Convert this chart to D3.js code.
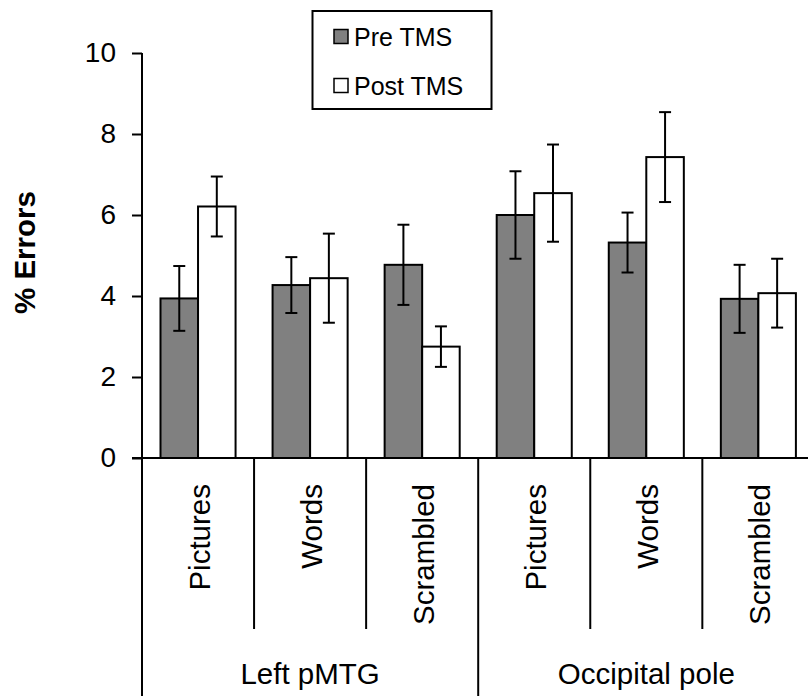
<!DOCTYPE html>
<html>
<head>
<meta charset="utf-8">
<script src="https://cdn.jsdelivr.net/npm/d3@7"></script>
<style>
  html, body { margin: 0; padding: 0; background: #fff; }
  svg { display: block; }
  text { font-family: "Liberation Sans", Arial, sans-serif; fill: #000; }
</style>
</head>
<body>
<div id="chart"></div>
<script>
// ---- data ----
const categories = ["Pictures", "Words", "Scrambled", "Pictures", "Words", "Scrambled"];
const groups = ["Left pMTG", "Occipital pole"];
const groupOf = [0, 0, 0, 1, 1, 1];
const series = ["Pre TMS", "Post TMS"];
const preValues  = [3.94, 4.27, 4.77, 6.00, 5.32, 3.93];
const postValues = [6.21, 4.44, 2.75, 6.54, 7.43, 4.07];
const preErr  = [0.80, 0.69, 0.99, 1.08, 0.74, 0.84];
const postErr = [0.74, 1.10, 0.50, 1.20, 1.11, 0.85];
const yTicks = [0, 2, 4, 6, 8, 10];
const yTitle = "% Errors";

// ---- layout ----
const W = 808, H = 696;
const plotLeft = 142, plotRight = 814.4, plotTop = 53, plotBottom = 458;
const colors = { "Pre TMS": "#808080", "Post TMS": "#ffffff" };

const svg = d3.select("#chart").append("svg")
  .attr("width", W).attr("height", H);

const idx = categories.map((d, i) => i);
const x0 = d3.scaleBand().domain(idx).range([plotLeft, plotRight]).padding(0);
const x1 = d3.scaleBand().domain(series).range([0, x0.bandwidth()])
  .paddingInner(0).paddingOuter(0.493);
const y = d3.scaleLinear().domain([0, 10]).range([plotBottom, plotTop]);

const rows = [];
idx.forEach(i => {
  rows.push({ i, s: "Pre TMS", v: preValues[i], e: preErr[i] });
  rows.push({ i, s: "Post TMS", v: postValues[i], e: postErr[i] });
});

// bars
svg.append("g").selectAll("rect").data(rows).join("rect")
  .attr("x", d => x0(d.i) + x1(d.s))
  .attr("y", d => y(d.v))
  .attr("width", x1.bandwidth())
  .attr("height", d => y(0) - y(d.v))
  .attr("fill", d => colors[d.s])
  .attr("stroke", "#000")
  .attr("stroke-width", 2);

// error bars
const eg = svg.append("g").attr("stroke", "#000").attr("stroke-width", 2);
rows.forEach(d => {
  const cx = x0(d.i) + x1(d.s) + x1.bandwidth() / 2;
  eg.append("line").attr("x1", cx).attr("x2", cx)
    .attr("y1", y(d.v + d.e)).attr("y2", y(d.v - d.e));
  [d.v + d.e, d.v - d.e].forEach(v => {
    eg.append("line").attr("x1", cx - 6).attr("x2", cx + 6)
      .attr("y1", y(v)).attr("y2", y(v));
  });
});

// y axis
const yAxis = d3.axisLeft(y).tickValues(yTicks).tickSize(10).tickPadding(16)
  .tickFormat(d3.format("d"));
const ya = svg.append("g").attr("transform", `translate(${plotLeft},0)`).call(yAxis);
ya.select(".domain").remove();
ya.selectAll(".tick line").attr("stroke", "#000").attr("stroke-width", 2);
ya.selectAll(".tick text").attr("font-size", 28)
  .attr("font-family", "'Liberation Sans', Arial, sans-serif").attr("fill", "#000");

// axis lines
svg.append("line").attr("x1", plotLeft).attr("x2", plotLeft)
  .attr("y1", plotTop).attr("y2", H)
  .attr("stroke", "#000").attr("stroke-width", 2);
svg.append("line").attr("x1", plotLeft - 10).attr("x2", W)
  .attr("y1", plotBottom).attr("y2", plotBottom)
  .attr("stroke", "#000").attr("stroke-width", 2);

// category dividers and group dividers
idx.forEach(i => {
  if (i === 0) return;
  const isGroupEdge = groupOf[i] !== groupOf[i - 1];
  svg.append("line").attr("x1", x0(i)).attr("x2", x0(i))
    .attr("y1", plotBottom).attr("y2", isGroupEdge ? H : 629)
    .attr("stroke", "#000").attr("stroke-width", 2);
});
svg.append("line").attr("x1", plotRight).attr("x2", plotRight)
  .attr("y1", plotBottom).attr("y2", H)
  .attr("stroke", "#000").attr("stroke-width", 2);

// category labels (rotated)
svg.append("g").selectAll("text").data(idx).join("text")
  .attr("transform", i => `translate(${x0(i) + x0.bandwidth() / 2 + 11.5},484) rotate(-90)`)
  .attr("text-anchor", "end")
  .attr("font-size", 29.5)
  .text(i => categories[i]);

// group labels
groups.forEach((g, gi) => {
  const members = idx.filter(i => groupOf[i] === gi);
  const gx0 = x0(members[0]);
  const gx1 = x0(members[members.length - 1]) + x0.bandwidth();
  svg.append("text")
    .attr("x", (gx0 + gx1) / 2).attr("y", 684)
    .attr("text-anchor", "middle").attr("font-size", 29.5)
    .text(g);
});

// y title
svg.append("text")
  .attr("transform", `translate(35,${(plotTop + plotBottom) / 2 - 3}) rotate(-90)`)
  .attr("text-anchor", "middle")
  .attr("font-size", 29.5).attr("font-weight", "bold")
  .text(yTitle);

// legend
const lg = svg.append("g");
lg.append("rect").attr("x", 312.5).attr("y", 11).attr("width", 179).attr("height", 98)
  .attr("fill", "#fff").attr("stroke", "#000").attr("stroke-width", 2);
series.forEach((s, k) => {
  const cy = 37 + k * 49;
  lg.append("rect").attr("x", 334).attr("y", cy - 7.5).attr("width", 14).attr("height", 14)
    .attr("fill", colors[s]).attr("stroke", "#000").attr("stroke-width", 1.5);
  lg.append("text").attr("x", 354).attr("y", cy + 9)
    .attr("font-size", 25).text(s);
});
</script>
</body>
</html>
